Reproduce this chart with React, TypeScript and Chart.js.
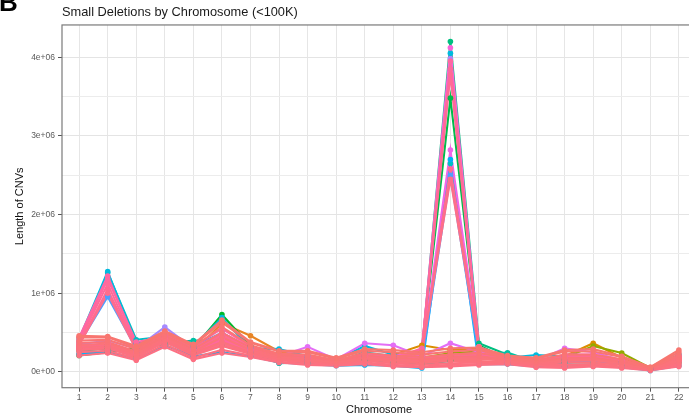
import React, { useEffect, useRef } from "react";
import { Chart, registerables } from "chart.js";

Chart.register(...registerables);

// ---------- data (values in millions of bases) ----------
const CHROMOSOMES = [1, 2, 3, 4, 5, 6, 7, 8, 9, 10, 11, 12, 13, 14, 15, 16, 17, 18, 19, 20, 21, 22];
const Y_TICK_VALUES = [0, 1, 2, 3, 4];
const Y_TICK_LABELS = ["0e+00", "1e+06", "2e+06", "3e+06", "4e+06"];
const Y_GRID_VALUES = [0, 0.5, 1, 1.5, 2, 2.5, 3, 3.5, 4];

const TITLE = "Small Deletions by Chromosome (<100K)";
const X_TITLE = "Chromosome";
const Y_TITLE = "Length of CNVs";
const PANEL_TAG = "B";

// coloured samples (drawn first)
const C01 = [0.30, 0.33, 0.20, 0.40, 0.25, 0.62, 0.46, 0.26, 0.20, 0.14, 0.20, 0.17, 0.15, 0.20, 0.22, 0.15, 0.12, 0.20, 0.20, 0.14, 0.04, 0.18];
const C02 = [0.33, 0.35, 0.24, 0.42, 0.27, 0.40, 0.28, 0.20, 0.18, 0.13, 0.20, 0.22, 0.34, 0.28, 0.30, 0.17, 0.13, 0.20, 0.365, 0.18, 0.05, 0.20];
const C03 = [0.28, 0.30, 0.21, 0.38, 0.24, 0.36, 0.25, 0.17, 0.15, 0.12, 0.18, 0.16, 0.18, 0.24, 0.26, 0.15, 0.12, 0.18, 0.33, 0.24, 0.05, 0.17];
const C04 = [0.21, 0.25, 0.30, 0.38, 0.30, 0.73, 0.33, 0.20, 0.15, 0.12, 0.16, 0.13, 0.12, 0.15, 0.20, 0.14, 0.10, 0.12, 0.14, 0.10, 0.03, 0.12];
const C05 = [0.30, 0.32, 0.22, 0.40, 0.24, 0.35, 0.26, 0.18, 0.16, 0.12, 0.20, 0.18, 0.26, 3.48, 0.34, 0.16, 0.12, 0.16, 0.18, 0.12, 0.04, 0.15];
const C06 = [0.27, 0.30, 0.25, 0.38, 0.30, 0.45, 0.30, 0.20, 0.16, 0.13, 0.22, 0.20, 0.25, 4.20, 0.365, 0.22, 0.14, 0.15, 0.20, 0.13, 0.04, 0.16];
const C07 = [0.22, 0.27, 0.27, 0.36, 0.40, 0.40, 0.25, 0.11, 0.12, 0.10, 0.15, 0.12, 0.10, 0.14, 0.22, 0.245, 0.12, 0.12, 0.12, 0.10, 0.03, 0.20];
const C08 = [0.38, 1.26, 0.41, 0.45, 0.32, 0.50, 0.30, 0.22, 0.18, 0.13, 0.25, 0.20, 0.18, 2.65, 0.28, 0.18, 0.15, 0.15, 0.18, 0.12, 0.04, 0.18];
const C09 = [0.42, 1.275, 0.36, 0.45, 0.33, 0.69, 0.30, 0.29, 0.20, 0.15, 0.33, 0.22, 0.20, 4.05, 0.30, 0.18, 0.216, 0.20, 0.20, 0.14, 0.05, 0.22];
const C10 = [0.23, 0.26, 0.17, 0.34, 0.20, 0.25, 0.20, 0.12, 0.10, 0.08, 0.09, 0.08, 0.05, 2.70, 0.10, 0.10, 0.07, 0.07, 0.08, 0.06, 0.02, 0.08];
const C11 = [0.36, 0.957, 0.30, 0.42, 0.28, 0.42, 0.27, 0.18, 0.15, 0.11, 0.18, 0.14, 0.14, 2.50, 0.20, 0.14, 0.11, 0.12, 0.14, 0.10, 0.03, 0.14];
const C12 = [0.35, 0.40, 0.30, 0.57, 0.30, 0.50, 0.30, 0.20, 0.20, 0.12, 0.20, 0.16, 0.20, 3.98, 0.28, 0.15, 0.12, 0.18, 0.20, 0.12, 0.04, 0.18];
const C13 = [0.33, 0.36, 0.25, 0.45, 0.28, 0.40, 0.28, 0.20, 0.32, 0.16, 0.365, 0.34, 0.20, 0.365, 0.25, 0.17, 0.14, 0.30, 0.25, 0.15, 0.05, 0.20];
const C14 = [0.30, 0.33, 0.22, 0.40, 0.24, 0.38, 0.26, 0.17, 0.15, 0.12, 0.20, 0.18, 0.22, 2.82, 0.30, 0.15, 0.12, 0.20, 0.20, 0.12, 0.04, 0.15];
const C15 = [0.32, 0.36, 0.25, 0.43, 0.27, 0.45, 0.29, 0.20, 0.18, 0.13, 0.22, 0.20, 0.28, 4.12, 0.32, 0.17, 0.13, 0.22, 0.22, 0.14, 0.05, 0.18];
// pink samples with peaks
const P01 = [0.44, 1.22, 0.34, 0.48, 0.32, 0.55, 0.32, 0.22, 0.20, 0.14, 0.22, 0.20, 0.18, 0.22, 0.24, 0.16, 0.13, 0.20, 0.20, 0.14, 0.04, 0.20];
const P02 = [0.40, 1.18, 0.38, 0.45, 0.30, 0.50, 0.30, 0.20, 0.18, 0.13, 0.20, 0.18, 0.16, 0.20, 0.22, 0.15, 0.12, 0.18, 0.18, 0.13, 0.04, 0.18];
const P03 = [0.38, 1.12, 0.32, 0.44, 0.29, 0.48, 0.29, 0.19, 0.17, 0.12, 0.19, 0.17, 0.15, 0.18, 0.20, 0.14, 0.11, 0.16, 0.17, 0.12, 0.04, 0.17];
const P04 = [0.35, 1.05, 0.30, 0.42, 0.27, 0.46, 0.28, 0.18, 0.16, 0.12, 0.18, 0.16, 0.14, 0.17, 0.19, 0.14, 0.11, 0.15, 0.16, 0.12, 0.04, 0.16];
const P05 = [0.34, 1.00, 0.28, 0.40, 0.26, 0.42, 0.26, 0.17, 0.15, 0.11, 0.17, 0.15, 0.13, 0.16, 0.18, 0.13, 0.10, 0.14, 0.15, 0.11, 0.03, 0.15];
const Q01 = [0.33, 0.35, 0.26, 0.44, 0.27, 0.42, 0.28, 0.19, 0.17, 0.13, 0.20, 0.18, 0.28, 3.95, 0.32, 0.16, 0.13, 0.20, 0.20, 0.13, 0.04, 0.18];
const Q02 = [0.31, 0.34, 0.24, 0.42, 0.25, 0.40, 0.27, 0.18, 0.16, 0.12, 0.19, 0.17, 0.30, 3.85, 0.30, 0.15, 0.12, 0.19, 0.19, 0.12, 0.04, 0.17];
const Q03 = [0.30, 0.32, 0.23, 0.41, 0.24, 0.38, 0.26, 0.17, 0.15, 0.12, 0.18, 0.16, 0.26, 3.78, 0.30, 0.15, 0.12, 0.18, 0.18, 0.12, 0.04, 0.16];
const Q04 = [0.29, 0.31, 0.22, 0.40, 0.23, 0.36, 0.25, 0.17, 0.15, 0.11, 0.17, 0.16, 0.25, 2.58, 0.31, 0.14, 0.11, 0.17, 0.17, 0.11, 0.03, 0.15];
const Q05 = [0.28, 0.30, 0.21, 0.39, 0.22, 0.35, 0.24, 0.16, 0.14, 0.11, 0.17, 0.15, 0.24, 2.45, 0.29, 0.14, 0.11, 0.16, 0.16, 0.11, 0.03, 0.15];
// pink samples forming the main band (drawn last)
const F01 = [0.21, 0.24, 0.15, 0.32, 0.16, 0.24, 0.19, 0.12, 0.09, 0.08, 0.10, 0.07, 0.06, 0.07, 0.09, 0.10, 0.06, 0.05, 0.07, 0.05, 0.02, 0.07];
const F02 = [0.25, 0.27, 0.17, 0.35, 0.18, 0.28, 0.21, 0.13, 0.10, 0.09, 0.12, 0.09, 0.07, 0.09, 0.10, 0.11, 0.08, 0.07, 0.08, 0.06, 0.03, 0.09];
const F03 = [0.28, 0.30, 0.19, 0.38, 0.21, 0.33, 0.23, 0.15, 0.12, 0.10, 0.14, 0.11, 0.09, 0.11, 0.12, 0.12, 0.09, 0.09, 0.10, 0.07, 0.03, 0.11];
const F04 = [0.31, 0.33, 0.22, 0.41, 0.24, 0.38, 0.25, 0.17, 0.14, 0.11, 0.16, 0.13, 0.11, 0.14, 0.14, 0.13, 0.10, 0.12, 0.12, 0.09, 0.04, 0.13];
const F05 = [0.34, 0.36, 0.24, 0.44, 0.26, 0.44, 0.28, 0.19, 0.16, 0.12, 0.18, 0.15, 0.13, 0.16, 0.17, 0.15, 0.12, 0.15, 0.15, 0.11, 0.04, 0.16];
const F06 = [0.37, 0.38, 0.26, 0.46, 0.29, 0.50, 0.31, 0.21, 0.19, 0.14, 0.21, 0.18, 0.16, 0.19, 0.20, 0.16, 0.13, 0.18, 0.18, 0.13, 0.05, 0.19];
const F07 = [0.40, 0.41, 0.29, 0.49, 0.32, 0.57, 0.34, 0.23, 0.22, 0.15, 0.24, 0.21, 0.19, 0.22, 0.24, 0.18, 0.15, 0.22, 0.22, 0.16, 0.05, 0.22];
const F08 = [0.44, 0.44, 0.31, 0.51, 0.34, 0.63, 0.37, 0.26, 0.25, 0.17, 0.27, 0.25, 0.22, 0.26, 0.28, 0.20, 0.17, 0.26, 0.26, 0.19, 0.06, 0.25];
const F09 = [0.46, 0.45, 0.33, 0.52, 0.35, 0.66, 0.38, 0.27, 0.27, 0.18, 0.29, 0.28, 0.25, 0.30, 0.31, 0.21, 0.18, 0.28, 0.29, 0.20, 0.06, 0.28];

const SERIES = [
  C01, C02, C03, C04, C05, C06, C07, C08, C09, C10, C11, C12, C13, C14, C15,
  P01, P02, P03, P04, P05, Q01, Q02, Q03, Q04, Q05,
  F01, F02, F03, F04, F05, F06, F07, F08, F09,
];

// ---------- styles ----------
const SERIES_HUES = [
  35, 48, 95, 132, 140, 160, 178, 196, 212, 230, 252, 272, 300, 312, 322,
  350, 353, 356, 359, 362, 352, 355, 358, 361, 364,
  366, 367, 368, 369, 370, 371, 372, 373, 374,
];

function hcl(h: number, c = 100, l = 65): string {
  const hr = (h * Math.PI) / 180;
  const U = c * Math.cos(hr);
  const V = c * Math.sin(hr);
  const Xn = 95.047, Yn = 100, Zn = 108.883;
  const Y = l > 8 ? Yn * Math.pow((l + 16) / 116, 3) : (Yn * l) / 903.3;
  const den = Xn + 15 * Yn + 3 * Zn;
  const un = (4 * Xn) / den;
  const vn = (9 * Yn) / den;
  const up = U / (13 * l) + un;
  const vp = V / (13 * l) + vn;
  const X = (Y * 9 * up) / (4 * vp);
  const Z = (Y * (12 - 3 * up - 20 * vp)) / (4 * vp);
  const x = X / 100, y = Y / 100, z = Z / 100;
  const lin = [
    3.2404542 * x - 1.5371385 * y - 0.4985314 * z,
    -0.969266 * x + 1.8760108 * y + 0.041556 * z,
    0.0556434 * x - 0.2040259 * y + 1.0572252 * z,
  ];
  const rgb = lin.map((v) => {
    const g = v <= 0.0031308 ? 12.92 * v : 1.055 * Math.pow(v, 1 / 2.4) - 0.055;
    return Math.round(Math.max(0, Math.min(1, g)) * 255);
  });
  return `rgb(${rgb[0]},${rgb[1]},${rgb[2]})`;
}

const FONT = '"Liberation Sans", Arial, Helvetica, sans-serif';

const decorPlugin = {
  id: "decor",
  afterDatasetsDraw(chart: any) {
    const { ctx, chartArea } = chart;
    ctx.save();
    ctx.strokeStyle = "#7a7a7a";
    ctx.lineWidth = 1.2;
    ctx.strokeRect(chartArea.left, chartArea.top, chartArea.right - chartArea.left, chartArea.bottom - chartArea.top);
    ctx.restore();
  },
  afterDraw(chart: any) {
    const { ctx } = chart;
    ctx.save();
    ctx.fillStyle = "#000";
    ctx.font = `bold 26px ${FONT}`;
    ctx.textBaseline = "alphabetic";
    ctx.textAlign = "left";
    ctx.fillText(PANEL_TAG, -1, 11);
    ctx.restore();
  },
};

export default function App() {
  const ref = useRef<HTMLCanvasElement | null>(null);

  useEffect(() => {
    if (!ref.current) return;
    const n = SERIES.length;
    const lineSets = SERIES.map((vals, i) => {
      const col = hcl(SERIES_HUES[i]);
      return {
        data: vals.map((v, j) => ({ x: CHROMOSOMES[j], y: v })),
        borderColor: col,
        backgroundColor: col,
        borderWidth: 2.1,
        pointRadius: 0,
        tension: 0,
        order: 2 * n - i,
      };
    });
    const pointSets = SERIES.map((vals, i) => {
      const col = hcl(SERIES_HUES[i]);
      return {
        data: vals.map((v, j) => ({ x: CHROMOSOMES[j], y: v })),
        borderColor: col,
        backgroundColor: col,
        showLine: false,
        pointRadius: 2.8,
        pointBorderWidth: 0,
        order: n - i,
      };
    });

    const chart = new Chart(ref.current, {
      type: "line",
      data: { datasets: [...lineSets, ...pointSets] as any },
      options: {
        animation: false,
        responsive: false,
        devicePixelRatio: 1,
        layout: { padding: { left: 0, right: 2, top: 0, bottom: 0 } },
        plugins: {
          legend: { display: false },
          tooltip: { enabled: false },
          title: {
            display: true,
            text: TITLE,
            align: "start",
            fullSize: false,
            color: "#1a1a1a",
            font: { family: FONT, size: 12.8, weight: "normal", lineHeight: 1.2 },
            padding: { top: 4.6, bottom: 5 },
          },
        },
        scales: {
          x: {
            type: "linear",
            min: 0.4,
            max: 22.6,
            afterBuildTicks: (s: any) => {
              s.ticks = CHROMOSOMES.map((v) => ({ value: v }));
            },
            afterFit: (s: any) => {
              s.height = 32.3;
            },
            ticks: {
              autoSkip: false,
              maxRotation: 0,
              padding: 1,
              color: "#5a5a5a",
              font: { family: FONT, size: 8.5 },
              callback: (v: any) => String(v),
            },
            grid: { color: "#E6E6E6", lineWidth: 1, tickLength: 4, tickColor: "#555", drawTicks: true },
            border: { display: false },
            title: {
              display: true,
              text: X_TITLE,
              color: "#111",
              font: { family: FONT, size: 11 },
              padding: { top: 0, bottom: 3.4 },
            },
          },
          y: {
            type: "linear",
            min: -0.2,
            max: 4.41,
            afterBuildTicks: (s: any) => {
              s.ticks = Y_GRID_VALUES.map((v) => ({ value: v }));
            },
            afterFit: (s: any) => {
              s.width = 62;
            },
            ticks: {
              padding: 3,
              color: "#5a5a5a",
              font: { family: FONT, size: 8.5 },
              callback: (v: any) => {
                const i = Y_TICK_VALUES.indexOf(Number(v));
                return i >= 0 ? Y_TICK_LABELS[i] : "";
              },
            },
            grid: {
              color: (c: any) => (c.tick && Number.isInteger(c.tick.value) ? "#E4E4E4" : "#ECECEC"),
              lineWidth: 1,
              tickLength: 4,
              tickColor: (c: any) => (c.tick && Number.isInteger(c.tick.value) ? "#555" : "rgba(0,0,0,0)"),
              drawTicks: true,
            },
            border: { display: false },
            title: {
              display: true,
              text: Y_TITLE,
              color: "#111",
              font: { family: FONT, size: 11 },
              padding: { top: 13.4, bottom: 0 },
            },
          },
        },
      },
      plugins: [decorPlugin],
    });
    return () => chart.destroy();
  }, []);

  return (
    <div style={{ position: "fixed", left: 0, top: 0, width: 689, height: 420, overflow: "hidden", background: "#fff" }}>
      <canvas ref={ref} width={700} height={420} style={{ width: 700, height: 420, display: "block" }} />
    </div>
  );
}
